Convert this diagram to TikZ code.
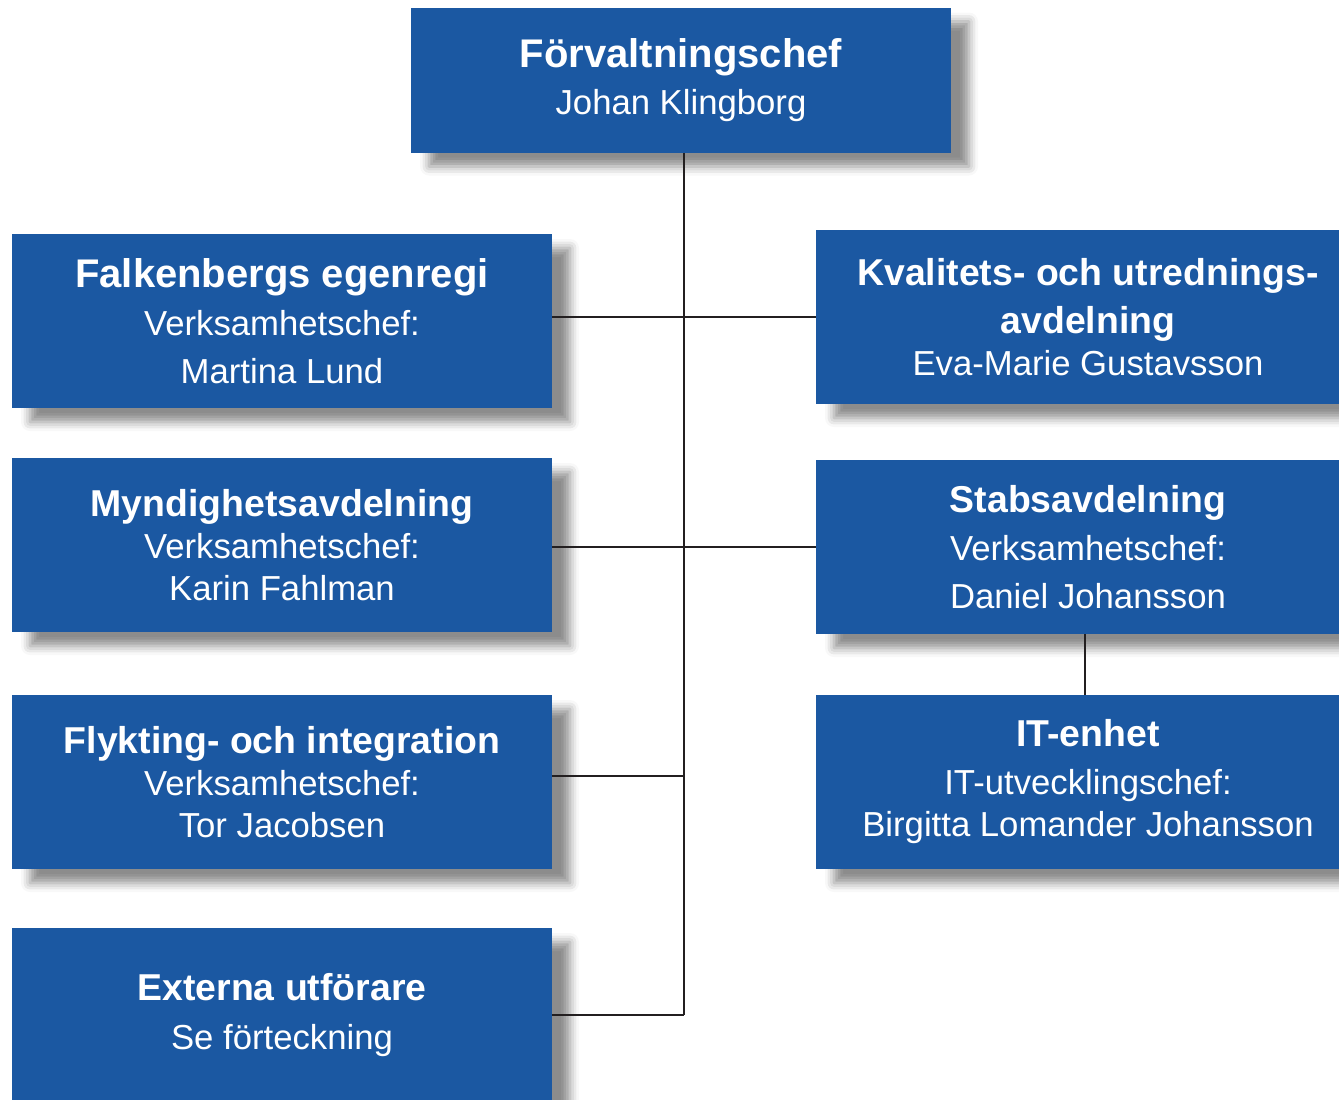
\documentclass[tikz,border=0pt]{standalone}
\usepackage{fontspec}
\setmainfont{Liberation Sans}
\usetikzlibrary{shadows.blur}
\definecolor{orgblue}{RGB}{27,88,162}
\definecolor{linegray}{RGB}{35,31,32}
\def\boxtitle#1{{\bfseries\fontsize{18.7}{24}\selectfont #1}}
\def\bigtitle#1{{\bfseries\fontsize{20}{24}\selectfont #1}}
\tikzset{
  orgbox/.style={rectangle, fill=orgblue, text=white, align=center, inner sep=0pt,
    minimum width=270pt, minimum height=87pt,
    font=\fontsize{17.35}{21}\selectfont,
    blur shadow={shadow xshift=9pt, shadow yshift=-7pt, shadow blur radius=4.5pt, shadow opacity=45}},
  rightbox/.style={orgbox, minimum width=272pt},
  orgline/.style={draw=linegray, line width=1.4pt}
}

\begin{document}
\begin{tikzpicture}[x=0.5pt, y=-0.5pt]
		%%%%% START %%%%%
		\useasboundingbox (0,0) rectangle (1339,1099);
		
		\node[orgbox, minimum height=72.5pt] (chef) at (681,80) {\bigtitle{Förvaltningschef}\\[2.5pt] Johan Klingborg};
		
		\node[orgbox] (egen) at (282,321) {\bigtitle{Falkenbergs egenregi}\\[3pt] Verksamhetschef:\\[3pt] Martina Lund};
		\node[rightbox] (kval) at (1088,317) {\boxtitle{Kvalitets- och utrednings-}\\[3pt] \boxtitle{avdelning}\\ Eva-Marie Gustavsson};
		
		\node[orgbox] (mynd) at (282,545) {\boxtitle{Myndighetsavdelning}\\ Verksamhetschef:\\ Karin Fahlman};
		\node[rightbox] (stab) at (1088,547) {\boxtitle{Stabsavdelning}\\[3pt] Verksamhetschef:\\[3pt] Daniel Johansson};
		
		\node[orgbox] (flyk) at (282,782) {\boxtitle{Flykting- och integration}\\ Verksamhetschef:\\ Tor Jacobsen};
		\node[rightbox] (itenhet) at (1088,782) {\boxtitle{IT-enhet}\\[3pt] IT-utvecklingschef:\\ Birgitta Lomander Johansson};
		
		\node[orgbox] (ext) at (282,1015) {\boxtitle{Externa utförare}\\[3.5pt] Se förteckning};
		
		% connectors
		\coordinate (spinetop) at ([xshift=1.5pt]chef.south);
		\coordinate (spine) at (spinetop |- ext.east);
		\draw[orgline] (spinetop) -- (spine);
		\draw[orgline] (kval.west -| egen.east) -- (kval.west);
		\draw[orgline] (stab.west -| mynd.east) -- (stab.west);
		\draw[orgline] ([yshift=3pt]flyk.east) -- ([yshift=3pt]flyk.east -| spine);
		\draw[orgline] (ext.east) -- (spine);
		\draw[orgline] ([xshift=-1.5pt]stab.south) -- ([xshift=-1.5pt]itenhet.north);
		
		%%%%% END %%%%%
	\end{tikzpicture}
\end{document}
